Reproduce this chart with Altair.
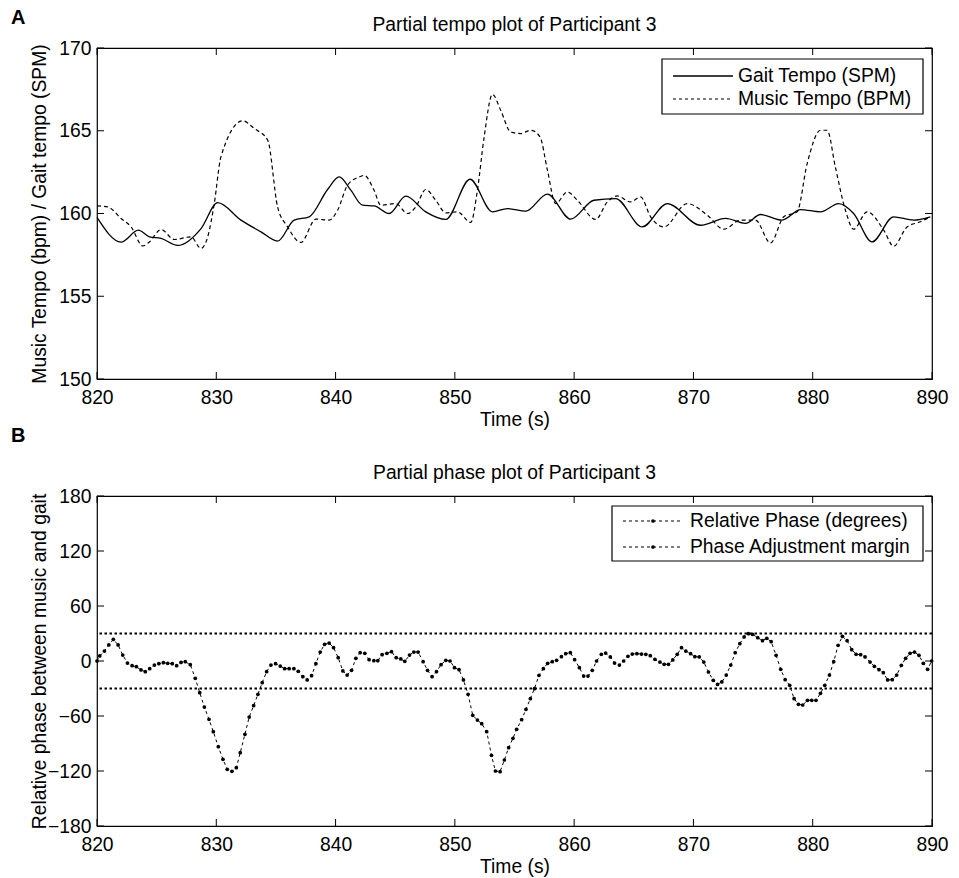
import altair as alt
import pandas as pd

# ---------------- data ----------------
# Panel A: gait cadence and music tempo over time
gait_time = [820.0, 822.02, 823.47, 824.39, 825.37, 826.77, 828.72, 830.12, 832.07, 833.75,
             835.14, 836.53, 837.79, 839.33, 840.30, 841.28, 842.26, 843.23, 844.49, 845.89,
             847.56, 849.24, 851.27, 853.15, 854.41, 855.94, 857.76, 859.71, 861.66, 863.48,
             865.71, 867.81, 870.60, 872.69, 874.37, 875.62, 877.44, 878.98, 880.65, 882.18,
             883.43, 884.97, 886.78, 888.46, 889.86]
gait_spm = [159.76, 158.27, 158.99, 158.59, 158.49, 158.07, 159.09, 160.66, 159.6, 158.89,
            158.33, 159.6, 159.8, 161.45, 162.21, 161.41, 160.5, 160.46, 160.0, 161.05,
            160.1, 159.64, 162.07, 160.1, 160.3, 160.14, 161.17, 159.66, 160.8, 160.9,
            159.19, 160.6, 159.29, 159.7, 159.4, 159.94, 159.6, 160.24, 160.1, 160.6,
            160.0, 158.28, 159.8, 159.6, 159.8]

music_time = [820.0, 820.90, 822.02, 822.86, 823.84, 824.39, 825.37, 826.48, 827.88, 828.72,
              829.28, 829.83, 830.39, 832.21, 833.18, 834.31, 835.14, 835.98, 837.09, 838.35,
              839.46, 840.17, 841.00, 841.98, 842.40, 843.23, 843.79, 845.05, 846.03, 846.73,
              847.56, 848.40, 849.24, 850.22, 851.33, 851.89, 852.45, 853.15, 853.84, 854.68,
              855.52, 856.36, 857.14, 857.76, 858.45, 859.43, 860.27, 861.80, 862.78, 863.62,
              864.73, 865.57, 866.41, 867.52, 869.48, 871.16, 872.55, 873.94, 875.20, 876.46,
              877.57, 878.69, 879.53, 880.65, 881.21, 881.90, 882.74, 883.43, 884.56, 885.95,
              886.78, 887.91, 889.02, 889.86]
music_bpm = [160.46, 160.4, 159.7, 159.19, 158.04, 158.28, 159.03, 158.43, 158.59, 157.89,
             158.59, 160.6, 163.42, 165.6, 165.14, 164.43, 160.4, 159.19, 158.25, 159.66,
             159.6, 160.2, 161.71, 162.21, 162.3, 161.4, 160.5, 160.6, 160.0, 160.4,
             161.45, 160.8, 160.04, 160.1, 159.46, 161.4, 164.6, 167.2, 166.24, 164.93,
             164.83, 165.03, 164.63, 162.62, 160.6, 161.3, 160.8, 159.64, 160.7, 161.06,
             160.7, 161.0, 159.8, 159.19, 160.6, 159.9, 159.05, 159.6, 159.6, 158.22,
             159.8, 160.1, 163.0, 165.03, 165.03, 162.8, 160.2, 159.05, 160.1, 159.0,
             158.02, 159.19, 159.5, 159.8]

# Panel B: relative phase between music beats and steps (one value per beat)
phase_time = [820.0, 820.23, 820.62, 820.99, 821.37, 821.77, 822.16, 822.55, 822.94, 823.30,
              823.69, 824.05, 824.42, 824.81, 825.18, 825.56, 825.93, 826.31, 826.68, 827.04,
              827.40, 827.82, 828.24, 828.61, 829.00, 829.39, 829.75, 830.17, 830.56, 830.92,
              831.31, 831.68,
              832.01, 832.40, 832.76, 833.13, 833.49, 833.85, 834.22, 834.58, 834.97, 835.36,
              835.73, 836.11, 836.51, 836.87, 837.26, 837.62, 837.99, 838.35, 838.71, 839.08,
              839.46, 839.83, 840.22, 840.61, 840.97, 841.34, 841.70, 842.06, 842.45, 842.81,
              843.21,
              843.54, 843.90, 844.30, 844.69, 845.08, 845.47, 845.80, 846.20, 846.56, 846.92,
              847.34, 847.71, 848.09, 848.46, 848.84, 849.24, 849.60, 849.97, 850.35, 850.72,
              851.11, 851.50, 851.89, 852.25, 852.67, 853.07, 853.40, 853.79, 854.15, 854.51,
              854.87, 855.18,
              855.60, 855.96, 856.33, 856.67, 857.05, 857.42, 857.78, 858.17, 858.53, 858.93,
              859.29, 859.68, 860.04, 860.44, 860.80, 861.16, 861.52, 861.88, 862.28, 862.64,
              863.03, 863.39, 863.79, 864.15, 864.51, 864.87, 865.26, 865.65, 866.01, 866.38,
              866.77,
              867.19, 867.55, 867.91, 868.27, 868.64, 869.00, 869.36, 869.76, 870.12, 870.49,
              870.87, 871.26, 871.66, 872.02, 872.38, 872.75, 873.13, 873.50, 873.89, 874.25,
              874.61, 874.95, 875.39, 875.79, 876.15, 876.52, 876.93, 877.32, 877.69, 878.07,
              878.44,
              878.80, 879.16, 879.56, 879.92, 880.28, 880.65, 881.01, 881.40, 881.76, 882.13,
              882.49, 882.88, 883.27, 883.64, 884.02, 884.39, 884.81, 885.17, 885.56, 885.92,
              886.28, 886.67, 887.04, 887.43, 887.79, 888.16, 888.54, 888.91, 889.27, 889.63,
              889.97]
phase_deg = [0.0, 5.5, 10.9, 17.5, 23.6, 17.5, 6.5, -2.2, -5.1, -6.2,
             -9.8, -11.6, -8.4, -4.4, -2.9, -1.8, -2.5, -2.9, -5.1, -1.5,
             -0.7, -4.0, -18.9, -34.5, -50.2, -63.6, -77.1, -93.5, -107.3, -118.2,
             -120.4, -116.4,
             -100.0, -80.0, -61.1, -48.7, -36.4, -23.6, -11.6, -4.4, -2.9, -5.5,
             -8.4, -8.4, -8.4, -11.3, -17.1, -20.7, -16.0, -2.9, 9.8, 18.2,
             19.6, 14.5, 3.6, -10.9, -15.3, -10.2, 2.9, 9.1, 8.4, 1.5,
             0.4,
             0.4, 6.9, 8.4, 10.2, 3.6, 2.2, -0.4, 6.5, 9.8, 9.8,
             -0.7, -10.2, -17.1, -11.6, -4.0, 0.7, 0.0, -7.3, -9.5, -20.7,
             -36.4, -59.3, -64.4, -68.4, -77.1, -102.9, -120.0, -120.7, -108.0, -94.5,
             -84.4, -74.5,
             -64.0, -52.7, -41.1, -30.2, -15.6, -8.4, -2.5, -0.7, 0.7, 4.7,
             8.0, 9.1, 1.5, -7.3, -16.4, -16.4, -10.2, 0.0, 7.3, 8.7,
             4.4, -2.2, -4.4, 0.0, 5.1, 7.6, 8.0, 7.6, 7.3, 5.8,
             1.8,
             -1.1, -3.6, -3.6, 1.1, 7.3, 14.5, 10.9, 8.0, 4.7, 4.4,
             -1.1, -12.0, -21.1, -25.5, -22.9, -15.3, -4.4, 9.1, 18.9, 26.2,
             29.8, 29.1, 25.5, 22.2, 24.7, 21.1, 6.2, -9.1, -20.4, -26.5,
             -41.1,
             -47.3, -48.0, -42.9, -42.9, -42.9, -35.3, -26.5, -15.3, -0.7, 17.1,
             26.9, 22.2, 12.4, 7.3, 6.9, 4.4, -1.1, -5.8, -9.5, -12.7,
             -20.7, -20.4, -15.3, -4.7, 2.9, 8.4, 9.8, 6.2, -2.5, -9.1,
             0.0]
margin_deg = [30, -30]

time_ticks = [820, 830, 840, 850, 860, 870, 880, 890]
tempo_ticks = [150, 155, 160, 165, 170]
phase_ticks = [-180, -120, -60, 0, 60, 120, 180]

tempo_title = "Partial tempo plot of Participant 3"
phase_title = "Partial phase plot of Participant 3"
tempo_legend = ["Gait Tempo (SPM)", "Music Tempo (BPM)"]
phase_legend = ["Relative Phase (degrees)", "Phase Adjustment margin"]

# ---------------- styling ----------------
W = 835
H_TOP = 331
H_BOT = 330
GAP = 117          # distance between the two plot frames
FONT = "Liberation Sans"
FS = 19.3
INK = "#000000"
TICK = 7

one = pd.DataFrame({"k": [0]})
gait_df = pd.DataFrame({"t": gait_time, "v": gait_spm})
music_df = pd.DataFrame({"t": music_time, "v": music_bpm})
phase_df = pd.DataFrame({"t": phase_time, "v": phase_deg})
margin_df = pd.DataFrame({"v": margin_deg})
xt_df = pd.DataFrame({"t": time_ticks})

xscale = alt.Scale(domain=[820, 890], nice=False, zero=False)


def x_axis():
    return alt.Axis(values=time_ticks, title="Time (s)", ticks=False, domain=False,
                    grid=False, labelFlush=False, labelOverlap=False, labelPadding=9,
                    labelFont=FONT, labelFontSize=FS, labelColor=INK,
                    titleFont=FONT, titleFontSize=FS, titleFontWeight="normal",
                    titleColor=INK, titlePadding=3)


def y_axis(values, title, h):
    return alt.Axis(values=values, title=title, ticks=False, domain=False, grid=False,
                    labelFlush=False, labelOverlap=False, labelPadding=6,
                    labelFont=FONT, labelFontSize=FS, labelColor=INK,
                    titleFont=FONT, titleFontSize=FS, titleFontWeight="normal",
                    titleColor=INK, titleAngle=270, titleBaseline="middle",
                    titleAlign="center", titleX=-58, titleY=h / 2)


def X(field):
    return alt.X(f"{field}:Q", scale=xscale, axis=x_axis())


def inward_ticks(yscale, yaxis, yvalues, h):
    """Box-style tick marks pointing into the plot on all four sides."""
    yt_df = pd.DataFrame({"v": yvalues})
    Y = alt.Y("v:Q", scale=yscale, axis=yaxis)
    bottom = alt.Chart(xt_df).mark_rule(color=INK, strokeWidth=1).encode(
        x=X("t"), y=alt.value(h), y2=alt.value(h - TICK))
    top = alt.Chart(xt_df).mark_rule(color=INK, strokeWidth=1).encode(
        x=X("t"), y=alt.value(0), y2=alt.value(TICK))
    left = alt.Chart(yt_df).mark_rule(color=INK, strokeWidth=1).encode(
        y=Y, x=alt.value(0), x2=alt.value(TICK))
    right = alt.Chart(yt_df).mark_rule(color=INK, strokeWidth=1).encode(
        y=Y, x=alt.value(W - TICK), x2=alt.value(W))
    return [bottom, top, left, right]


def label_text(label, x, y, align="left", baseline="middle", size=FS, weight="normal"):
    return alt.Chart(one).mark_text(align=align, baseline=baseline, font=FONT,
                                    fontSize=size, fontWeight=weight, color=INK).encode(
        x=alt.value(x), y=alt.value(y), text=alt.value(label))


def panel_heading(letter, title, letter_y):
    return [
        label_text(letter, -86, letter_y, size=20, weight="bold"),
        label_text(title, W / 2, -17, align="center", baseline="alphabetic"),
    ]


# ---------------- panel A: tempo ----------------
tempo_scale = alt.Scale(domain=[150, 170], nice=False, zero=False)
tempo_axis = y_axis(tempo_ticks, "Music Tempo (bpm) / Gait tempo (SPM)", H_TOP)
YT = alt.Y("v:Q", scale=tempo_scale, axis=tempo_axis)

gait_line = alt.Chart(gait_df).mark_line(color=INK, strokeWidth=1.3,
                                         interpolate="monotone").encode(x=X("t"), y=YT)
music_line = alt.Chart(music_df).mark_line(color=INK, strokeWidth=1.2, strokeDash=[4, 3],
                                           interpolate="monotone").encode(x=X("t"), y=YT)

leg_a = [
    alt.Chart(one).mark_rect(fill="white", stroke=INK, strokeWidth=1.2).encode(
        x=alt.value(565), x2=alt.value(826), y=alt.value(11), y2=alt.value(66)),
    alt.Chart(one).mark_rule(color=INK, strokeWidth=1.3).encode(
        x=alt.value(576), x2=alt.value(636), y=alt.value(28)),
    alt.Chart(one).mark_rule(color=INK, strokeWidth=1.2, strokeDash=[3, 3]).encode(
        x=alt.value(576), x2=alt.value(636), y=alt.value(51)),
    label_text(tempo_legend[0], 641, 28),
    label_text(tempo_legend[1], 641, 51),
]

top = alt.layer(
    gait_line, music_line,
    *inward_ticks(tempo_scale, tempo_axis, tempo_ticks, H_TOP),
    *leg_a,
    *panel_heading("A", tempo_title, -30),
).properties(width=W, height=H_TOP)

# ---------------- panel B: relative phase ----------------
phase_scale = alt.Scale(domain=[-180, 180], nice=False, zero=False)
phase_axis = y_axis(phase_ticks, "Relative phase between music and gait", H_BOT)
YP = alt.Y("v:Q", scale=phase_scale, axis=phase_axis)

margin_rules = alt.Chart(margin_df).mark_rule(color=INK, strokeWidth=2.2,
                                              strokeDash=[2.5, 2.5]).encode(y=YP)
phase_line = alt.Chart(phase_df).mark_line(color=INK, strokeWidth=1,
                                           strokeDash=[3, 3]).encode(x=X("t"), y=YP)
phase_dots = alt.Chart(phase_df).mark_point(filled=True, color=INK, opacity=1,
                                            size=14).encode(x=X("t"), y=YP)

leg_b = [
    alt.Chart(one).mark_rect(fill="white", stroke=INK, strokeWidth=1.2).encode(
        x=alt.value(515), x2=alt.value(826), y=alt.value(10), y2=alt.value(65)),
]
for i, lab in enumerate(phase_legend):
    yy = 25 + i * 26
    leg_b += [
        alt.Chart(one).mark_rule(color=INK, strokeWidth=1, strokeDash=[3, 3]).encode(
            x=alt.value(526), x2=alt.value(586), y=alt.value(yy)),
        alt.Chart(one).mark_point(filled=True, color=INK, opacity=1, size=14).encode(
            x=alt.value(556), y=alt.value(yy)),
        label_text(lab, 593, yy),
    ]

bottom = alt.layer(
    margin_rules, phase_line, phase_dots,
    *inward_ticks(phase_scale, phase_axis, phase_ticks, H_BOT),
    *leg_b,
    *panel_heading("B", phase_title, -60),
).properties(width=W, height=H_BOT)

chart = alt.vconcat(top, bottom, spacing=GAP, bounds="flush").properties(
    padding={"left": 10, "top": 7, "right": 10, "bottom": 2},
    background="white",
).configure_view(stroke=INK, strokeWidth=1.2)

chart.save("out.html", embed_options={"renderer": "svg", "actions": False})
